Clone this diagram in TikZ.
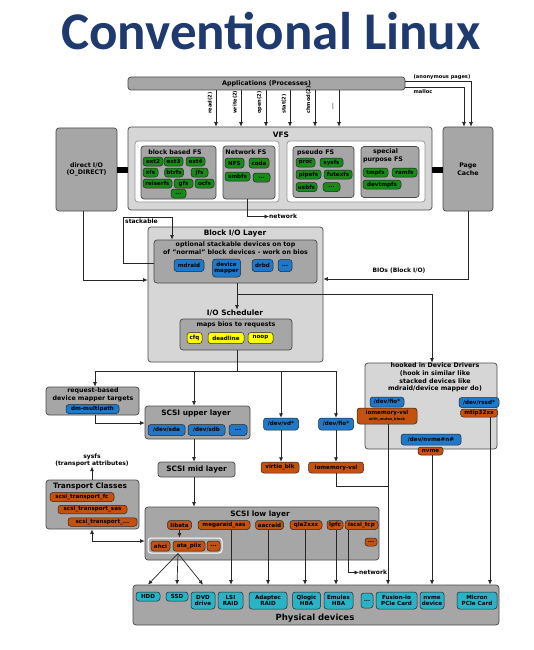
\documentclass[tikz,border=0pt]{standalone}
\usepackage{fontspec}
\setmainfont{DejaVu Sans}
\newfontfamily\titlefont{Carlito}
\usetikzlibrary{arrows.meta}
\definecolor{boxdark}{HTML}{A6A6A6}
\definecolor{boxlight}{HTML}{D6D6D6}
\definecolor{edge}{HTML}{4A4A4A}
\definecolor{pgreen}{HTML}{178A17}
\definecolor{pblue}{HTML}{1F78C8}
\definecolor{porange}{HTML}{C4520E}
\definecolor{pyellow}{HTML}{FFFF00}
\definecolor{pcyan}{HTML}{28B4C6}
\definecolor{titleblue}{HTML}{1F3A6E}
\definecolor{lnc}{HTML}{262626}
\begin{document}
\begin{tikzpicture}[x=1pt,y=-1pt,
  bx/.style={draw=edge, line width=0.7pt, rounded corners=3pt, inner sep=0pt},
  dk/.style={bx, fill=boxdark},
  lt/.style={bx, fill=boxlight},
  wb/.style={bx, fill=white, draw=edge!60},
  wh/.style 2 args={minimum width=#1pt, minimum height=#2pt},
  pill/.style={draw=black!85, line width=0.5pt, rounded corners=2.8pt, inner sep=0pt, font=\fontsize{5.6}{6}\selectfont\bfseries, align=center},
  gp/.style={pill, fill=pgreen},
  bp/.style={pill, fill=pblue},
  op/.style={pill, fill=porange},
  yp/.style={pill, fill=pyellow},
  cp/.style={pill, fill=pcyan},
  ttl/.style={font=\fontsize{7.4}{8}\selectfont\bfseries, inner sep=0pt, align=center},
  sub/.style={font=\fontsize{6.3}{7.6}\selectfont\bfseries, inner sep=0pt, align=center},
  txt/.style={font=\fontsize{6.3}{7.6}\selectfont\bfseries, inner sep=0pt, align=center},
  lbl/.style={font=\fontsize{6}{7}\selectfont\bfseries, inner sep=0pt, align=center},
  slbl/.style={font=\fontsize{5.1}{6}\selectfont\bfseries, inner sep=0pt, align=center},
  arr/.style={draw=lnc, line width=0.7pt, -{Latex[length=4.5pt,width=4pt]}},
  darr/.style={draw=lnc, line width=0.7pt, {Latex[length=4.5pt,width=4pt]}-{Latex[length=4.5pt,width=4pt]}},
  ln/.style={draw=lnc, line width=0.7pt},
  bar/.style={draw=black, line width=6pt}
]
\useasboundingbox (0,0) rectangle (534,650);
\fill[white] (0,0) rectangle (534,650);

% title
\node[font=\titlefont\fontsize{53}{53}\selectfont\bfseries, text=titleblue, inner sep=0pt] (title) at (271,31) {Conventional Linux};

% applications
\node[dk, wh={277}{13}, font=\fontsize{6.4}{7}\selectfont\bfseries] (apps) at (266.5,83.5) {Applications (Processes)};

% VFS
\node[lt, wh={304}{83}] (vfs) at (280,168.5) {};
\node[ttl] (vfst) at (281,135) {VFS};
\node[wb, wh={144}{61}] (w1) at (207,171.5) {};
\node[wb, wh={138}{61}] (w2) at (356,171.5) {};
\node[dk, wh={75}{53}] (bbfs) at (178.5,172.5) {};
\node[dk, wh={52}{53}] (netfs) at (249,172.5) {};
\node[dk, wh={61}{51}] (pseudo) at (323.5,172) {};
\node[dk, wh={58}{51}] (special) at (390,172) {};
\node[sub] (bbfst) at (175,152) {block based FS};
\node[sub] (netfst) at (246,152) {Network FS};
\node[sub, anchor=west] (pseudot) at (297,153) {pseudo FS};
\node[sub] (specialt) at (383,156) {\hspace*{5pt}special\\purpose FS};

\node[gp, wh={20}{9}] (ext2) at (153,161.5) {ext2};
\node[gp, wh={19}{9}] (ext3) at (173.5,161.5) {ext3};
\node[gp, wh={19}{9}] (ext4) at (195.5,161.5) {ext4};
\node[gp, wh={15}{9}] (xfs) at (150.5,172.5) {xfs};
\node[gp, wh={19}{9}] (btrfs) at (174,172.5) {btrfs};
\node[gp, wh={17}{9}] (jfs) at (199.5,172.5) {jfs};
\node[gp, wh={29}{9}] (reiser) at (157.5,183.5) {reiserfs};
\node[gp, wh={19}{9}] (gfs) at (183.5,183.5) {gfs};
\node[gp, wh={19}{9}] (ocfs) at (204.5,183.5) {ocfs};
\node[gp, wh={15}{9}] (bbdots) at (178.5,193.5) {...};
\node[gp, wh={19}{10}] (nfs) at (234.5,163) {NFS};
\node[gp, wh={20}{10}] (coda) at (259,163) {coda};
\node[gp, wh={25}{9}] (smbfs) at (237.5,176.5) {smbfs};
\node[gp, wh={17}{9}] (netdots) at (261.5,177.5) {...};
\node[gp, wh={19}{9}] (proc) at (305.5,162.5) {proc};
\node[gp, wh={23}{9}] (sysfs) at (331.5,162.5) {sysfs};
\node[gp, wh={25}{9}] (pipefs) at (308.5,174.5) {pipefs};
\node[gp, wh={28}{9}] (futexfs) at (338,174.5) {futexfs};
\node[gp, wh={21}{9}] (usbfs) at (306.5,187) {usbfs};
\node[gp, wh={17}{9}] (psdots) at (331.5,187) {...};
\node[gp, wh={25}{9}] (tmpfs) at (375.5,172.5) {tmpfs};
\node[gp, wh={25}{9}] (ramfs) at (404.5,172.5) {ramfs};
\node[gp, wh={38}{9}] (devtmpfs) at (382,184.5) {devtmpfs};

% direct I/O and page cache
\node[dk, wh={61}{83}, txt] (direct) at (86.5,169.5) {direct I/O\\(O\_DIRECT)};
\node[dk, wh={50}{84}, txt] (pagecache) at (468,169) {Page\\Cache};
\coordinate (yt) at (0,169.5);
\draw[bar] (direct.east |- yt) -- (vfs.west |- yt);
\draw[bar] (vfs.east |- yt) -- (pagecache.west |- yt);

% apps -> vfs
\coordinate (c1) at (216,0);
\coordinate (c2) at (241,0);
\coordinate (c3) at (266,0);
\coordinate (c4) at (290,0);
\coordinate (c5) at (315,0);
\coordinate (c6) at (339,0);
\draw[arr] (apps.south -| c1) -- (vfs.north -| c1);
\draw[arr] (apps.south -| c2) -- (vfs.north -| c2);
\draw[arr] (apps.south -| c3) -- (vfs.north -| c3);
\draw[arr] (apps.south -| c4) -- (vfs.north -| c4);
\draw[arr] (apps.south -| c5) -- (vfs.north -| c5);
\draw[arr] (apps.south -| c6) -- (vfs.north -| c6);
\node[slbl, rotate=90, anchor=west] (l1) at (210,114) {read(2)};
\node[slbl, rotate=90, anchor=west] (l2) at (235,114) {write(2)};
\node[slbl, rotate=90, anchor=west] (l3) at (259.5,114) {open(2)};
\node[slbl, rotate=90, anchor=west] (l4) at (284,114) {stat(2)};
\node[slbl, rotate=90, anchor=west] (l5) at (308.5,114) {chmod(2)};
\node[slbl, rotate=90, anchor=west] (l6) at (333,110) {...};

% apps -> page cache
\coordinate (ya1) at (0,81.5);
\coordinate (ya2) at (0,87.5);
\coordinate (pc1) at (471,0);
\coordinate (pc2) at (464,0);
\draw[arr] (apps.east |- ya1) -| (pagecache.north -| pc1);
\draw[arr] (apps.east |- ya2) -| (pagecache.north -| pc2);
\node[slbl] (anon) at (442,77) {(anonymous pages)};
\node[slbl] (malloc) at (423,92) {malloc};

% network from Network FS
\node[lbl, anchor=west] (net1) at (269,216.5) {network};
\coordinate (xn) at (247,0);
\draw[arr] (netfs.south -| xn) |- (net1.west);

% Block I/O layer
\node[lt, wh={175}{135}] (blk) at (235.5,294.5) {};
\node[ttl] (blkt) at (235,233) {Block I/O Layer};
\node[dk, wh={163}{43}] (opt) at (235.5,261.5) {};
\node[txt] (optt) at (235.5,248) {optional stackable devices on top\\of "normal" block devices - work on bios};
\node[bp, wh={30}{12}] (mdraid) at (189,265.5) {mdraid};
\node[bp, wh={28}{18}] (devmap) at (226.5,268) {device\\mapper};
\node[bp, wh={21}{12}] (drbd) at (262.5,265.5) {drbd};
\node[bp, wh={14}{12}] (blkdots) at (285,265.5) {...};

% stackable loop
\coordinate (ys) at (0,263);
\coordinate (sl) at (123,217);
\coordinate (xsa) at (172,0);
\draw[arr] (opt.west |- ys) -| (sl) -| (opt.north -| xsa);
\node[lbl, anchor=north west] (stk) at (125,218.5) {stackable};

% direct I/O -> block
\coordinate (xd) at (83,0);
\coordinate (yd) at (0,280);
\draw[arr] (direct.south -| xd) |- (blk.west |- yd);

% page cache -> block
\coordinate (yp) at (0,279);
\draw[arr] (pagecache.south) |- (blk.east |- yp);
\node[lbl] (bios) at (399,271) {BIOs (Block I/O)};

% I/O scheduler
\node[ttl] (scht) at (235,313) {I/O Scheduler};
\node[dk, wh={112}{31}] (sched) at (236,334.5) {};
\node[txt] (schedt) at (236,325) {maps bios to requests};
\node[yp, wh={15}{11}] (cfq) at (194.5,338) {cfq};
\node[yp, wh={36}{11}] (deadline) at (226,338) {deadline};
\node[yp, wh={25}{11}] (noop) at (260.5,338) {noop};

\coordinate (xs) at (237,0);
\coordinate (yb1) at (0,294);
\coordinate (xh) at (432,0);
\draw[arr] (opt.south -| xs) -- (scht.north -| xs);

% hooked in device drivers
\node[lt, wh={132}{86}] (hooked) at (431,406) {};
\node[txt] (hookedt) at (435,377.5) {hooked in Device Drivers\\(hook in similar like\\stacked devices like\\mdraid/device mapper do)};
\node[bp, wh={34}{10}] (fio1) at (387,402) {/dev/fio*};
\node[op, wh={60}{16}] (iomem1) at (387,416) {iomemory-vsl\\{\fontsize{3.6}{4}\selectfont with\_mutex\_block}};
\node[bp, wh={40}{10}] (rssd) at (479,402.5) {/dev/rssd*};
\node[op, wh={37}{8}] (mtip) at (479,413) {mtip32xx};
\node[bp, wh={60}{11}] (nvmen) at (431,439.5) {/dev/nvme\#n\#};
\node[op, wh={25}{8}] (nvme) at (430.5,451) {nvme};
\draw[arr] (xs |- yb1) -| (hooked.north -| xh);

% request fan-out
\coordinate (yr) at (0,371);
\coordinate (x95) at (95,0);
\coordinate (x194) at (194,0);
\coordinate (x281) at (281,0);
\coordinate (x336) at (336,0);
\draw[ln] (sched.south -| xs) -- (xs |- yr);
\draw[ln] (x95 |- yr) -- (x336 |- yr);

% left: request-based
\node[dk, wh={93}{28}] (req) at (92.5,401) {};
\node[txt] (reqt) at (93,395) {request-based\\device mapper targets};
\node[bp, wh={53}{9}] (dmmp) at (92.5,409) {dm-multipath};

% SCSI upper
\node[dk, wh={105}{33}] (upper) at (197.5,422.5) {};
\node[ttl] (uppert) at (196,413) {SCSI upper layer};
\node[bp, wh={37}{11}] (sda) at (166.5,430) {/dev/sda};
\node[bp, wh={37}{11}] (sdb) at (206.5,430) {/dev/sdb};
\node[bp, wh={18}{11}] (updots) at (238,430) {...};

% virtio / fio
\node[bp, wh={35}{12}] (vd) at (281,424) {/dev/vd*};
\node[bp, wh={35}{12}] (fio2) at (336,424) {/dev/fio*};
\node[op, wh={38}{11}] (virtio) at (280,467.5) {virtio\_blk};
\node[op, wh={55}{11}] (iomem2) at (336,467.5) {iomemory-vsl};

\draw[arr] (x95 |- yr) -- (req.north -| x95);
\draw[arr] (x194 |- yr) -- (upper.north -| x194);
\draw[arr] (x281 |- yr) -- (vd.north);
\draw[arr] (x336 |- yr) -- (fio2.north);
\coordinate (y423) at (0,423);
\draw[arr] (req.south -| x95) |- (upper.west |- y423);
\draw[arr] (vd.south) -- (vd.south |- virtio.north);
\draw[arr] (fio2.south) -- (fio2.south |- iomem2.north);

% SCSI mid / low
\node[dk, wh={77}{15}, ttl] (mid) at (196.5,469.5) {SCSI mid layer};
\node[dk, wh={234}{53}] (low) at (262,533.5) {};
\node[ttl] (lowt) at (260,514) {SCSI low layer};
\node[op, wh={24}{9}] (libata) at (179.5,525) {libata};
\node[op, wh={52}{9}] (mega) at (224,525) {megaraid\_sas};
\node[op, wh={28}{9}] (aac) at (269.5,525) {aacraid};
\node[op, wh={32}{9}] (qla) at (306,525) {qla2xxx};
\node[op, wh={16}{9}] (lpfc) at (335,525) {lpfc};
\node[op, wh={33}{9}] (iscsi) at (361.5,525) {iscsi\_tcp};
\node[op, wh={12}{8}] (lowdots) at (371,542) {...};
\node[bx, fill=boxdark, draw=white, line width=1pt, wh={74}{15}] (ata) at (185,545.5) {};
\node[op, wh={19}{10}] (ahci) at (160.5,546) {ahci};
\node[op, wh={32}{10}] (piix) at (189,546) {ata\_piix};
\node[op, wh={13}{10}] (atadots) at (213.5,546) {...};
\draw[arr] (upper.south -| x194) -- (mid.north -| x194);
\draw[arr] (mid.south -| x194) -- (low.north -| x194);
\draw[arr] (libata.south) -- (libata.south |- ata.north);

% transport classes
\node[dk, wh={93}{49}] (trans) at (92.5,504.5) {};
\node[ttl] (transt) at (90,486) {Transport Classes};
\node[op, wh={64}{9}] (tfc) at (82,497) {scsi\_transport\_fc};
\node[op, wh={69}{8.5}] (tsas) at (92.5,509.5) {scsi\_transport\_sas};
\node[op, wh={69}{8.5}] (tdots) at (102.5,522) {scsi\_transport\_...};
\node[lbl] (sysfsl) at (92,460) {sysfs\\(transport attributes)};
\coordinate (xt) at (92,0);
\coordinate (ylo) at (0,541);
\draw[arr] (trans.north -| xt) -- (sysfsl.south);
\draw[darr] (trans.south -| xt) |- (low.west |- ylo);

% physical devices
\node[dk, wh={366}{40}] (phys) at (316,605) {};
\node[font=\fontsize{8.5}{9}\selectfont\bfseries, inner sep=0pt] (physt) at (315,618) {Physical devices};
\node[cp, wh={24}{9}] (hdd) at (148,596.5) {HDD};
\node[cp, wh={22}{9}] (ssd) at (177,596.5) {SSD};
\node[cp, wh={24}{17}] (dvd) at (203,600.5) {DVD\\drive};
\node[cp, wh={25}{17}] (lsi) at (230.5,600.5) {LSI\\RAID};
\node[cp, wh={38}{17}] (adaptec) at (268,600.5) {Adaptec\\RAID};
\node[cp, wh={28}{17}] (qlogic) at (306.5,600.5) {Qlogic\\HBA};
\node[cp, wh={29}{17}] (emulex) at (338.5,600.5) {Emulex\\HBA};
\node[cp, wh={12}{15}] (physdots) at (367,600.5) {...};
\node[cp, wh={41}{17}] (fusion) at (396.5,600.5) {Fusion-io\\PCIe Card};
\node[cp, wh={24}{17}] (nvmedev) at (432,600.5) {nvme\\device};
\node[cp, wh={40}{17}] (micron) at (477,600.5) {Micron\\PCIe Card};

% low layer -> physical
\coordinate (fan) at (178,553.5);
\draw[arr] (fan) -- (hdd.north |- phys.north);
\draw[arr] (fan) -- (ssd.north |- phys.north);
\draw[arr] (fan) -- (dvd.north |- phys.north);
\coordinate (xm) at (231,0);
\coordinate (xa) at (268,0);
\coordinate (xq) at (305,0);
\coordinate (xl) at (336,0);
\coordinate (xi) at (348,0);
\draw[arr] (mega.south -| xm) -- (phys.north -| xm);
\draw[arr] (aac.south -| xa) -- (phys.north -| xa);
\draw[arr] (qla.south -| xq) -- (phys.north -| xq);
\draw[arr] (lpfc.south -| xl) -- (phys.north -| xl);
\node[lbl, anchor=west] (net2) at (359,572.5) {network};
\draw[arr] (iscsi.south -| xi) |- (net2.west);

% hooked drivers -> physical
\coordinate (xf) at (388,0);
\coordinate (xnv) at (432,0);
\coordinate (xmt) at (490,0);
\coordinate (yj) at (0,486);
\draw[arr] (iomem1.south -| xf) -- (phys.north -| xf);
\draw[ln] (iomem2.south) |- (xf |- yj);
\draw[arr] (nvme.south -| xnv) -- (phys.north -| xnv);
\draw[arr] (mtip.south -| xmt) -- (phys.north -| xmt);
\end{tikzpicture}
\end{document}
